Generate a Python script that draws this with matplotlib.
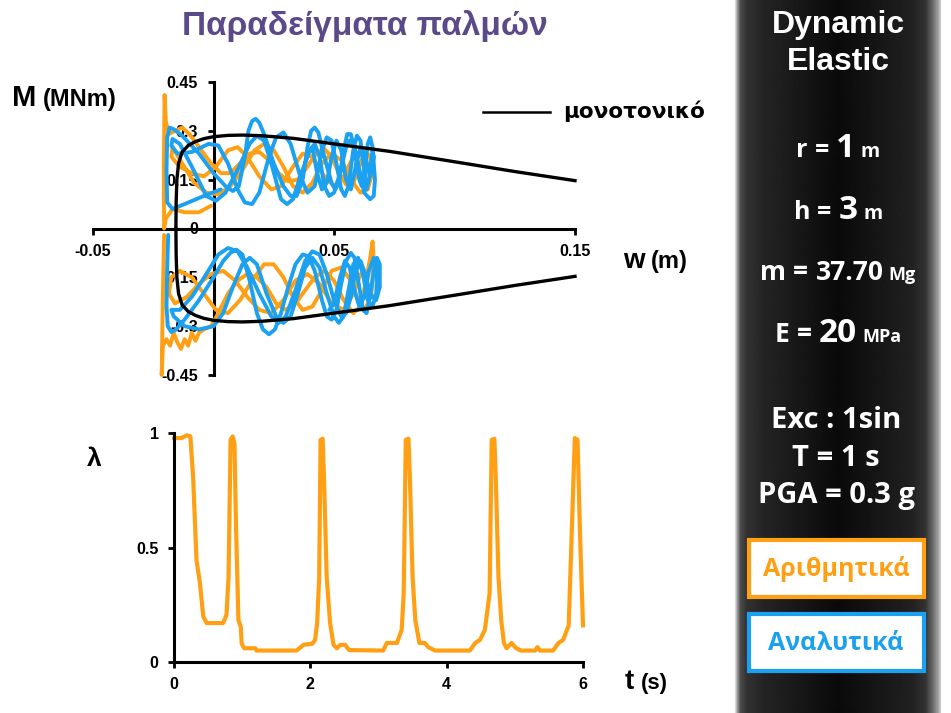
import matplotlib
matplotlib.use("Agg")
import matplotlib.pyplot as plt
import numpy as np
from matplotlib.patches import Rectangle

plt.rcParams["font.family"] = ["Liberation Sans", "DejaVu Sans"]
plt.rcParams["font.weight"] = "bold"

W, H = 951, 713
ORANGE = "#FFA014"
BLUE = "#1CA0F0"
PURPLE = "#5B4A8A"

# ── Data ─────────────────────────────────────────────────────────────────────
# monotonic M-w curve (upper branch, lower branch is its mirror)
mono_w = [-0.0156, -0.0155, -0.0152, -0.0145, -0.013, -0.0105, -0.0075, -0.004,
          0.0, 0.006, 0.012, 0.02, 0.033, 0.05, 0.073, 0.1, 0.125, 0.15]
mono_m = [0.0, 0.08, 0.15, 0.2, 0.235, 0.255, 0.267, 0.276,
          0.282, 0.286, 0.287, 0.285, 0.277, 0.26, 0.237, 0.205, 0.175, 0.147]

# analytical (blue) loops
blue_up = [
    (0.003, 0.12), (-0.004, 0.1), (-0.012, 0.075), (-0.017, 0.06), (-0.0192, 0.08),
    (-0.0195, 0.18), (-0.0192, 0.28), (-0.0182, 0.31), (-0.0165, 0.305), (-0.013, 0.285),
    (-0.006, 0.23), (0.0, 0.17), (0.005, 0.13), (0.008, 0.115), (0.0105, 0.13),
    (0.013, 0.22), (0.0145, 0.3), (0.016, 0.33), (0.0175, 0.337), (0.019, 0.325),
    (0.021, 0.29), (0.025, 0.2), (0.029, 0.13), (0.032, 0.1), (0.0345, 0.1),
    (0.037, 0.15), (0.039, 0.25), (0.0405, 0.3), (0.042, 0.31), (0.0435, 0.295),
    (0.046, 0.22), (0.049, 0.14), (0.0505, 0.12), (0.052, 0.14), (0.054, 0.24),
    (0.0555, 0.29), (0.057, 0.29), (0.0585, 0.24), (0.0605, 0.15), (0.0615, 0.13),
    (0.0625, 0.16), (0.064, 0.26), (0.065, 0.28), (0.066, 0.25), (0.067, 0.15),
    (0.0665, 0.1), (0.065, 0.09), (0.0625, 0.11), (0.06, 0.2), (0.058, 0.26),
    (0.0565, 0.27), (0.055, 0.25), (0.0525, 0.17), (0.05, 0.11), (0.048, 0.1),
    (0.046, 0.13), (0.044, 0.22), (0.042, 0.26), (0.04, 0.24), (0.036, 0.16),
    (0.033, 0.09), (0.0305, 0.075), (0.028, 0.09), (0.024, 0.2), (0.021, 0.27),
    (0.018, 0.285), (0.015, 0.26), (0.01, 0.18), (0.005, 0.11), (0.001, 0.085),
    (-0.003, 0.1), (-0.009, 0.19), (-0.014, 0.26), (-0.017, 0.275), (-0.0175, 0.255),
    (-0.015, 0.23), (-0.009, 0.235), (-0.002, 0.26), (0.002, 0.255), (0.006, 0.2),
    (0.01, 0.12), (0.013, 0.08), (0.016, 0.075), (0.019, 0.11), (0.023, 0.22),
    (0.026, 0.28), (0.029, 0.295), (0.032, 0.26), (0.036, 0.16), (0.039, 0.11),
    (0.042, 0.13), (0.045, 0.24), (0.047, 0.28), (0.049, 0.27), (0.051, 0.2),
    (0.053, 0.12), (0.0545, 0.1), (0.056, 0.13), (0.058, 0.24), (0.0595, 0.285),
    (0.061, 0.27), (0.0625, 0.18), (0.0635, 0.12), (0.0645, 0.15), (0.066, 0.24),
    (0.0665, 0.22), (0.065, 0.16), (0.063, 0.22), (0.061, 0.25), (0.059, 0.19),
    (0.057, 0.12), (0.055, 0.15), (0.053, 0.24), (0.051, 0.27), (0.049, 0.22),
    (0.047, 0.14), (0.045, 0.12), (0.043, 0.17), (0.041, 0.25),
]
blue_lo = [
    (-0.0188, -0.02), (-0.0192, -0.12), (-0.0195, -0.24), (-0.019, -0.3), (-0.0175, -0.318),
    (-0.0155, -0.31), (-0.012, -0.28), (-0.006, -0.22), (0.0, -0.15), (0.004, -0.1),
    (0.007, -0.075), (0.0095, -0.065), (0.012, -0.08), (0.015, -0.16), (0.018, -0.26),
    (0.0205, -0.31), (0.023, -0.325), (0.0255, -0.31), (0.028, -0.26), (0.031, -0.18),
    (0.034, -0.11), (0.037, -0.08), (0.0395, -0.085), (0.042, -0.13), (0.045, -0.22),
    (0.047, -0.27), (0.049, -0.28), (0.051, -0.25), (0.053, -0.17), (0.055, -0.1),
    (0.057, -0.075), (0.0585, -0.09), (0.0605, -0.18), (0.062, -0.25), (0.0635, -0.26),
    (0.065, -0.21), (0.0665, -0.13), (0.0678, -0.09), (0.069, -0.11), (0.069, -0.18),
    (0.0675, -0.22), (0.065, -0.2), (0.063, -0.14), (0.061, -0.1), (0.059, -0.13),
    (0.057, -0.21), (0.055, -0.26), (0.053, -0.27), (0.05, -0.22), (0.047, -0.14),
    (0.044, -0.08), (0.041, -0.07), (0.038, -0.1), (0.034, -0.19), (0.03, -0.27),
    (0.027, -0.29), (0.024, -0.27), (0.019, -0.2), (0.014, -0.12), (0.01, -0.07),
    (0.006, -0.06), (0.002, -0.08), (-0.003, -0.14), (-0.009, -0.21), (-0.014, -0.25),
    (-0.0175, -0.25), (-0.0165, -0.27), (-0.012, -0.3), (-0.006, -0.31), (0.0, -0.3),
    (0.004, -0.26), (0.008, -0.18), (0.012, -0.11), (0.015, -0.09), (0.018, -0.11),
    (0.022, -0.2), (0.026, -0.27), (0.029, -0.29), (0.032, -0.27), (0.035, -0.2),
    (0.038, -0.12), (0.041, -0.09), (0.044, -0.12), (0.047, -0.2), (0.05, -0.27),
    (0.052, -0.29), (0.054, -0.27), (0.056, -0.19), (0.058, -0.11), (0.06, -0.09),
    (0.062, -0.14), (0.064, -0.22), (0.066, -0.24), (0.0675, -0.2), (0.068, -0.12),
    (0.0665, -0.09), (0.0645, -0.13), (0.0625, -0.21), (0.0605, -0.24), (0.0585, -0.19),
    (0.0565, -0.12), (0.0545, -0.1), (0.0525, -0.15), (0.05, -0.23), (0.048, -0.25),
]

# numerical (orange) loops
orange_up = [
    (-0.001, 0.07), (-0.006, 0.05), (-0.012, 0.05), (-0.017, 0.06), (-0.0198, 0.03),
    (-0.0205, 0.0), (-0.0206, 0.2), (-0.0203, 0.41), (-0.0198, 0.33), (-0.0185, 0.29),
    (-0.016, 0.3), (-0.013, 0.31), (-0.01, 0.29), (-0.006, 0.25), (-0.001, 0.2),
    (0.003, 0.17), (0.007, 0.17), (0.011, 0.2), (0.015, 0.23), (0.019, 0.235),
    (0.023, 0.21), (0.027, 0.17), (0.031, 0.145), (0.035, 0.15), (0.039, 0.19),
    (0.043, 0.235), (0.046, 0.245), (0.049, 0.22), (0.052, 0.17), (0.055, 0.135),
    (0.058, 0.14), (0.061, 0.2), (0.063, 0.24), (0.065, 0.22), (0.0655, 0.16),
    (0.064, 0.12), (0.061, 0.11), (0.057, 0.15), (0.053, 0.21), (0.049, 0.23),
    (0.045, 0.2), (0.041, 0.14), (0.037, 0.11), (0.033, 0.13), (0.029, 0.19),
    (0.025, 0.24), (0.021, 0.26), (0.017, 0.24), (0.012, 0.18), (0.007, 0.13),
    (0.002, 0.105), (-0.003, 0.11), (-0.008, 0.14), (-0.013, 0.2), (-0.017, 0.25),
    (-0.0175, 0.22), (-0.014, 0.19), (-0.009, 0.17), (-0.004, 0.16), (0.001, 0.19),
    (0.006, 0.24), (0.01, 0.25), (0.014, 0.22), (0.019, 0.16), (0.024, 0.12),
    (0.028, 0.13), (0.033, 0.19), (0.037, 0.23), (0.041, 0.22), (0.046, 0.16),
    (0.05, 0.13), (0.054, 0.16), (0.058, 0.22), (0.061, 0.24), (0.063, 0.2),
]
orange_lo = [
    (-0.0205, -0.02), (-0.021, -0.2), (-0.0215, -0.45), (-0.021, -0.36), (-0.0195, -0.34),
    (-0.018, -0.36), (-0.0165, -0.32), (-0.015, -0.35), (-0.0135, -0.37), (-0.012, -0.34),
    (-0.0105, -0.36), (-0.009, -0.32), (-0.0075, -0.345), (-0.006, -0.32), (-0.004, -0.31),
    (-0.001, -0.3), (0.002, -0.26), (0.006, -0.2), (0.01, -0.16), (0.014, -0.14),
    (0.018, -0.15), (0.022, -0.18), (0.026, -0.23), (0.03, -0.25), (0.034, -0.23),
    (0.038, -0.19), (0.042, -0.15), (0.046, -0.13), (0.05, -0.16), (0.054, -0.22),
    (0.058, -0.26), (0.061, -0.24), (0.063, -0.17), (0.065, -0.09), (0.066, -0.04),
    (0.0665, -0.1), (0.0655, -0.2), (0.063, -0.25), (0.06, -0.22), (0.057, -0.16),
    (0.053, -0.12), (0.049, -0.13), (0.045, -0.19), (0.041, -0.24), (0.037, -0.25),
    (0.033, -0.21), (0.029, -0.15), (0.025, -0.11), (0.021, -0.11), (0.016, -0.16),
    (0.011, -0.22), (0.006, -0.26), (0.001, -0.25), (-0.004, -0.2), (-0.009, -0.15),
    (-0.014, -0.13), (-0.0175, -0.15), (-0.0185, -0.2), (-0.016, -0.23), (-0.011, -0.21),
    (-0.006, -0.17), (-0.001, -0.14), (0.004, -0.13), (0.009, -0.16), (0.014, -0.21),
    (0.019, -0.25), (0.024, -0.26), (0.029, -0.22), (0.034, -0.16), (0.039, -0.14),
    (0.044, -0.17), (0.049, -0.23), (0.054, -0.25), (0.058, -0.2), (0.061, -0.14),
]

# lambda time history
t_vals = [0.0, 0.11, 0.19, 0.24, 0.28, 0.33, 0.38, 0.43, 0.48, 0.72,
          0.77, 0.8, 0.83, 0.86, 0.887, 0.91, 0.945, 0.98, 0.993, 1.03,
          1.195, 1.21, 1.8, 1.9, 2.03, 2.07, 2.1, 2.13, 2.15, 2.18,
          2.2, 2.24, 2.29, 2.34, 2.39, 2.44, 2.51, 2.57, 3.07, 3.12,
          3.27, 3.34, 3.37, 3.4, 3.44, 3.46, 3.5, 3.54, 3.56, 3.6,
          3.68, 3.73, 3.83, 4.34, 4.42, 4.49, 4.56, 4.63, 4.66, 4.7,
          4.72, 4.76, 4.8, 4.84, 4.88, 4.95, 5.02, 5.09, 5.3, 5.33,
          5.37, 5.56, 5.64, 5.71, 5.79, 5.83, 5.88, 5.92, 5.96, 6.0]
lam_vals = [0.978, 0.978, 0.99, 0.985, 0.81, 0.445, 0.345, 0.198, 0.17, 0.17,
            0.205, 0.37, 0.97, 0.985, 0.955, 0.59, 0.183, 0.154, 0.08, 0.06,
            0.06, 0.05, 0.05, 0.075, 0.08, 0.097, 0.17, 0.37, 0.97, 0.975,
            0.81, 0.37, 0.17, 0.075, 0.06, 0.075, 0.075, 0.052, 0.05, 0.083,
            0.083, 0.14, 0.3, 0.97, 0.975, 0.81, 0.37, 0.183, 0.15, 0.083,
            0.083, 0.065, 0.05, 0.05, 0.083, 0.097, 0.14, 0.3, 0.97, 0.975,
            0.81, 0.37, 0.183, 0.083, 0.06, 0.083, 0.06, 0.05, 0.05, 0.065,
            0.05, 0.05, 0.083, 0.097, 0.16, 0.52, 0.978, 0.97, 0.52, 0.16]

m_ticks = [-0.45, -0.3, -0.15, 0, 0.15, 0.3, 0.45]
m_ticklabels = ["-0.45", "-0.3", "-0.15", "0", "0.15", "0.3", "0.45"]
w_ticks = [-0.05, 0.05, 0.15]
w_ticklabels = ["-0.05", "0.05", "0.15"]

params = [
    [("r", 18), ("=", 18), ("1", 24), ("m", 14)],
    [("h", 18), ("=", 18), ("3", 24), ("m", 14)],
    [("m", 19), ("=", 19), ("37.70", 19), ("Mg", 13)],
    [("E", 19), ("=", 19), ("20", 24), ("MPa", 13)],
]
param_y = [157, 219, 280, 342]
exc_lines = ["Exc : 1sin", "T = 1 s", "PGA = 0.3 g"]
exc_y = [428, 466, 503]


def px(x, y):
    return x / W, 1 - y / H


fig = plt.figure(figsize=(W / 100, H / 100), dpi=100)
renderer = fig.canvas.get_renderer()


def mixed(x0, base_y, pieces, color, family, center=True):
    ts = [fig.text(0, 0, s, fontsize=fs, color=color, family=family,
                   weight="bold", va="baseline", ha="left") for s, fs in pieces]
    ws = [t.get_window_extent(renderer).width for t in ts]
    gaps = [0.28 * min(a[1], b[1]) * 100 / 72 for a, b in zip(pieces[:-1], pieces[1:])]
    total = sum(ws) + sum(gaps)
    x = x0 - total / 2 if center else x0
    for i, (t, w) in enumerate(zip(ts, ws)):
        t.set_position(px(x, base_y))
        x += w + (gaps[i] if i < len(gaps) else 0)


# ── dark side panel ──────────────────────────────────────────────────────────
axp = fig.add_axes([735 / W, 0, (941 - 735) / W, 1])
cols = np.arange(735, 941)
shade = np.interp(cols, [735, 737, 740, 746, 765, 838, 912, 925, 932, 938, 941],
                  [0.85, 0.6, 0.3, 0.2, 0.14, 0.04, 0.13, 0.2, 0.4, 0.65, 0.85])
axp.imshow(shade[None, :], cmap="gray", vmin=0, vmax=1, aspect="auto",
           extent=[0, 1, 0, 1])
axp.set_axis_off()

# ── top: M-w loops ───────────────────────────────────────────────────────────
ax = fig.add_axes([93 / W, 1 - 375 / H, (575 - 93) / W, (375 - 82) / H])
ax.set_axisbelow(True)
for pts, col in ((orange_up, ORANGE), (orange_lo, ORANGE), (blue_up, BLUE), (blue_lo, BLUE)):
    ws_, ms_ = zip(*pts)
    ax.plot(ws_, ms_, color=col, lw=2.8, clip_on=False,
            solid_joinstyle="round", solid_capstyle="round")
ax.plot(mono_w, mono_m, color="black", lw=2.4, clip_on=False, zorder=5)
ax.plot(mono_w, [-v for v in mono_m], color="black", lw=2.4, clip_on=False, zorder=5)
ax.set_xlim(-0.05, 0.15)
ax.set_ylim(-0.45, 0.45)
for s in ("top", "right"):
    ax.spines[s].set_visible(False)
ax.spines["left"].set_position(("data", 0))
ax.spines["bottom"].set_position(("data", 0))
for s in ("left", "bottom"):
    ax.spines[s].set_linewidth(2.2)
    ax.spines[s].set_zorder(1)
ax.set_xticks(w_ticks, w_ticklabels)
ax.set_yticks(m_ticks, m_ticklabels)
ax.tick_params(direction="out", length=4, width=2, labelsize=11.5, pad=7)
ax.patch.set_alpha(0)

# legend entry
fig.add_artist(plt.Line2D([483 / W, 550 / W], [1 - 112 / H, 1 - 112 / H],
                          color="black", lw=1.8))
fig.text(*px(563, 111), "μονοτονικό", fontsize=15.5, family="DejaVu Sans",
         va="center", ha="left")

# ── bottom: lambda time history ──────────────────────────────────────────────
ax2 = fig.add_axes([174 / W, 1 - 662 / H, (583 - 174) / W, (662 - 433) / H])
ax2.plot(t_vals, lam_vals, color=ORANGE, lw=3, clip_on=False, solid_joinstyle="round")
ax2.set_xlim(0, 6)
ax2.set_ylim(0, 1)
for s in ("top", "right"):
    ax2.spines[s].set_visible(False)
for s in ("left", "bottom"):
    ax2.spines[s].set_linewidth(2.2)
ax2.set_xticks([0, 2, 4, 6], ["0", "2", "4", "6"])
ax2.set_yticks([0, 0.5, 1], ["0", "0.5", "1"])
ax2.tick_params(direction="out", length=4, width=2, labelsize=11.5, pad=7)
ax2.patch.set_alpha(0)

# ── axis titles and headline ─────────────────────────────────────────────────
fig.text(*px(365, 35), "Παραδείγματα παλμών", fontsize=24, color=PURPLE,
         ha="center", va="baseline")
mixed(12, 106, [("M", 21), ("(MNm)", 17)], "black", "Liberation Sans", center=False)
mixed(623, 268, [("w", 20), ("(m)", 17)], "black", "Liberation Sans", center=False)
fig.text(*px(87, 466), "λ", fontsize=19, ha="left", va="baseline")
mixed(625, 689, [("t", 20), ("(s)", 16)], "black", "Liberation Sans", center=False)

# ── side panel texts ─────────────────────────────────────────────────────────
fig.text(*px(838, 33), "Dynamic", fontsize=23, color="white", ha="center", va="baseline")
fig.text(*px(838, 70), "Elastic", fontsize=23, color="white", ha="center", va="baseline")
for pieces, yb in zip(params, param_y):
    mixed(838, yb, pieces, "white", "Open Sans")
for s, yb in zip(exc_lines, exc_y):
    fig.text(*px(836, yb), s, fontsize=21, color="white", family="Open Sans",
             ha="center", va="baseline")

for label, color, top in (("Αριθμητικά", ORANGE, 540), ("Αναλυτικά", BLUE, 614)):
    fig.add_artist(Rectangle(px(749, top + 57), 175 / W, 57 / H, transform=fig.transFigure,
                             facecolor="white", edgecolor=color, lw=3))
    fig.text(*px(836, top + 29), label, fontsize=18, color=color, family="Open Sans",
             ha="center", va="center")

fig.savefig("out.png", dpi=100)
